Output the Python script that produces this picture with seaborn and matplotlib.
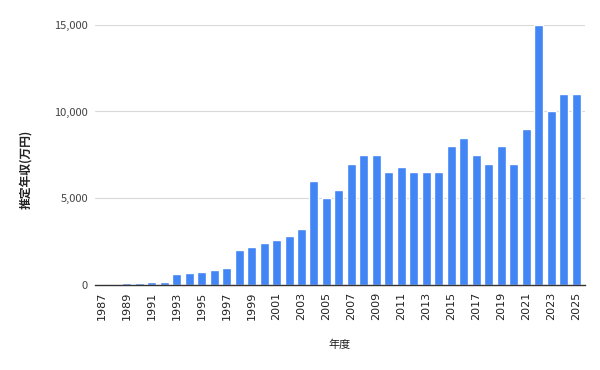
import matplotlib
matplotlib.use("Agg")
import matplotlib.pyplot as plt
import seaborn as sns
import pandas as pd
from matplotlib.ticker import FuncFormatter

years = list(range(1987, 2026))
salary = [50, 50, 100, 100, 150, 150, 600, 700, 750, 850, 1000,
          2000, 2200, 2400, 2600, 2800, 3200,
          6000, 5000, 5500, 7000, 7500, 7500, 6500, 6800, 6500, 6500, 6500,
          8000, 8500, 7500, 7000, 8000, 7000, 9000, 15000, 10000, 11000, 11000]

df = pd.DataFrame({"year": [str(y) for y in years], "salary": salary})

sns.set_theme(style="white")
plt.rcParams['font.family'] = ['Noto Sans CJK JP', 'DejaVu Sans']

fig = plt.figure(figsize=(6, 3.7), dpi=100)
ax = fig.add_axes([0.158, 0.23, 0.817, 0.703])
sns.barplot(data=df, x="year", y="salary", color="#4285F4", width=0.72,
            saturation=1, ax=ax)

ax.set_ylim(0, 15000)
ax.set_yticks([0, 5000, 10000, 15000])
ax.yaxis.set_major_formatter(FuncFormatter(lambda v, p: f"{int(v):,}"))
ax.grid(axis="y", color="#d9d9d9", linewidth=0.8)
ax.set_axisbelow(True)
for s in ["top", "right", "left"]:
    ax.spines[s].set_visible(False)
ax.spines["bottom"].set_color("#333333")
ax.spines["bottom"].set_linewidth(1.0)

labels = [str(y) if (y - 1987) % 2 == 0 else "" for y in years]
ax.set_xticks(range(len(years)))
ax.set_xticklabels(labels, rotation=90, fontsize=8, color="#222222", family="DejaVu Sans")
ax.tick_params(axis="y", labelsize=8, labelcolor="#444444", length=0, pad=5)
ax.tick_params(axis="x", length=0, pad=5)
ax.set_xlim(-0.55, len(years) - 0.3)

ax.set_xlabel("年度", fontsize=8, color="#222222", labelpad=14)
ax.set_ylabel("推定年収(万円)", fontsize=8.5, color="#222222", fontweight="bold")
ax.yaxis.set_label_coords(-0.128, 0.446)

fig.savefig("out.png", dpi=100)
